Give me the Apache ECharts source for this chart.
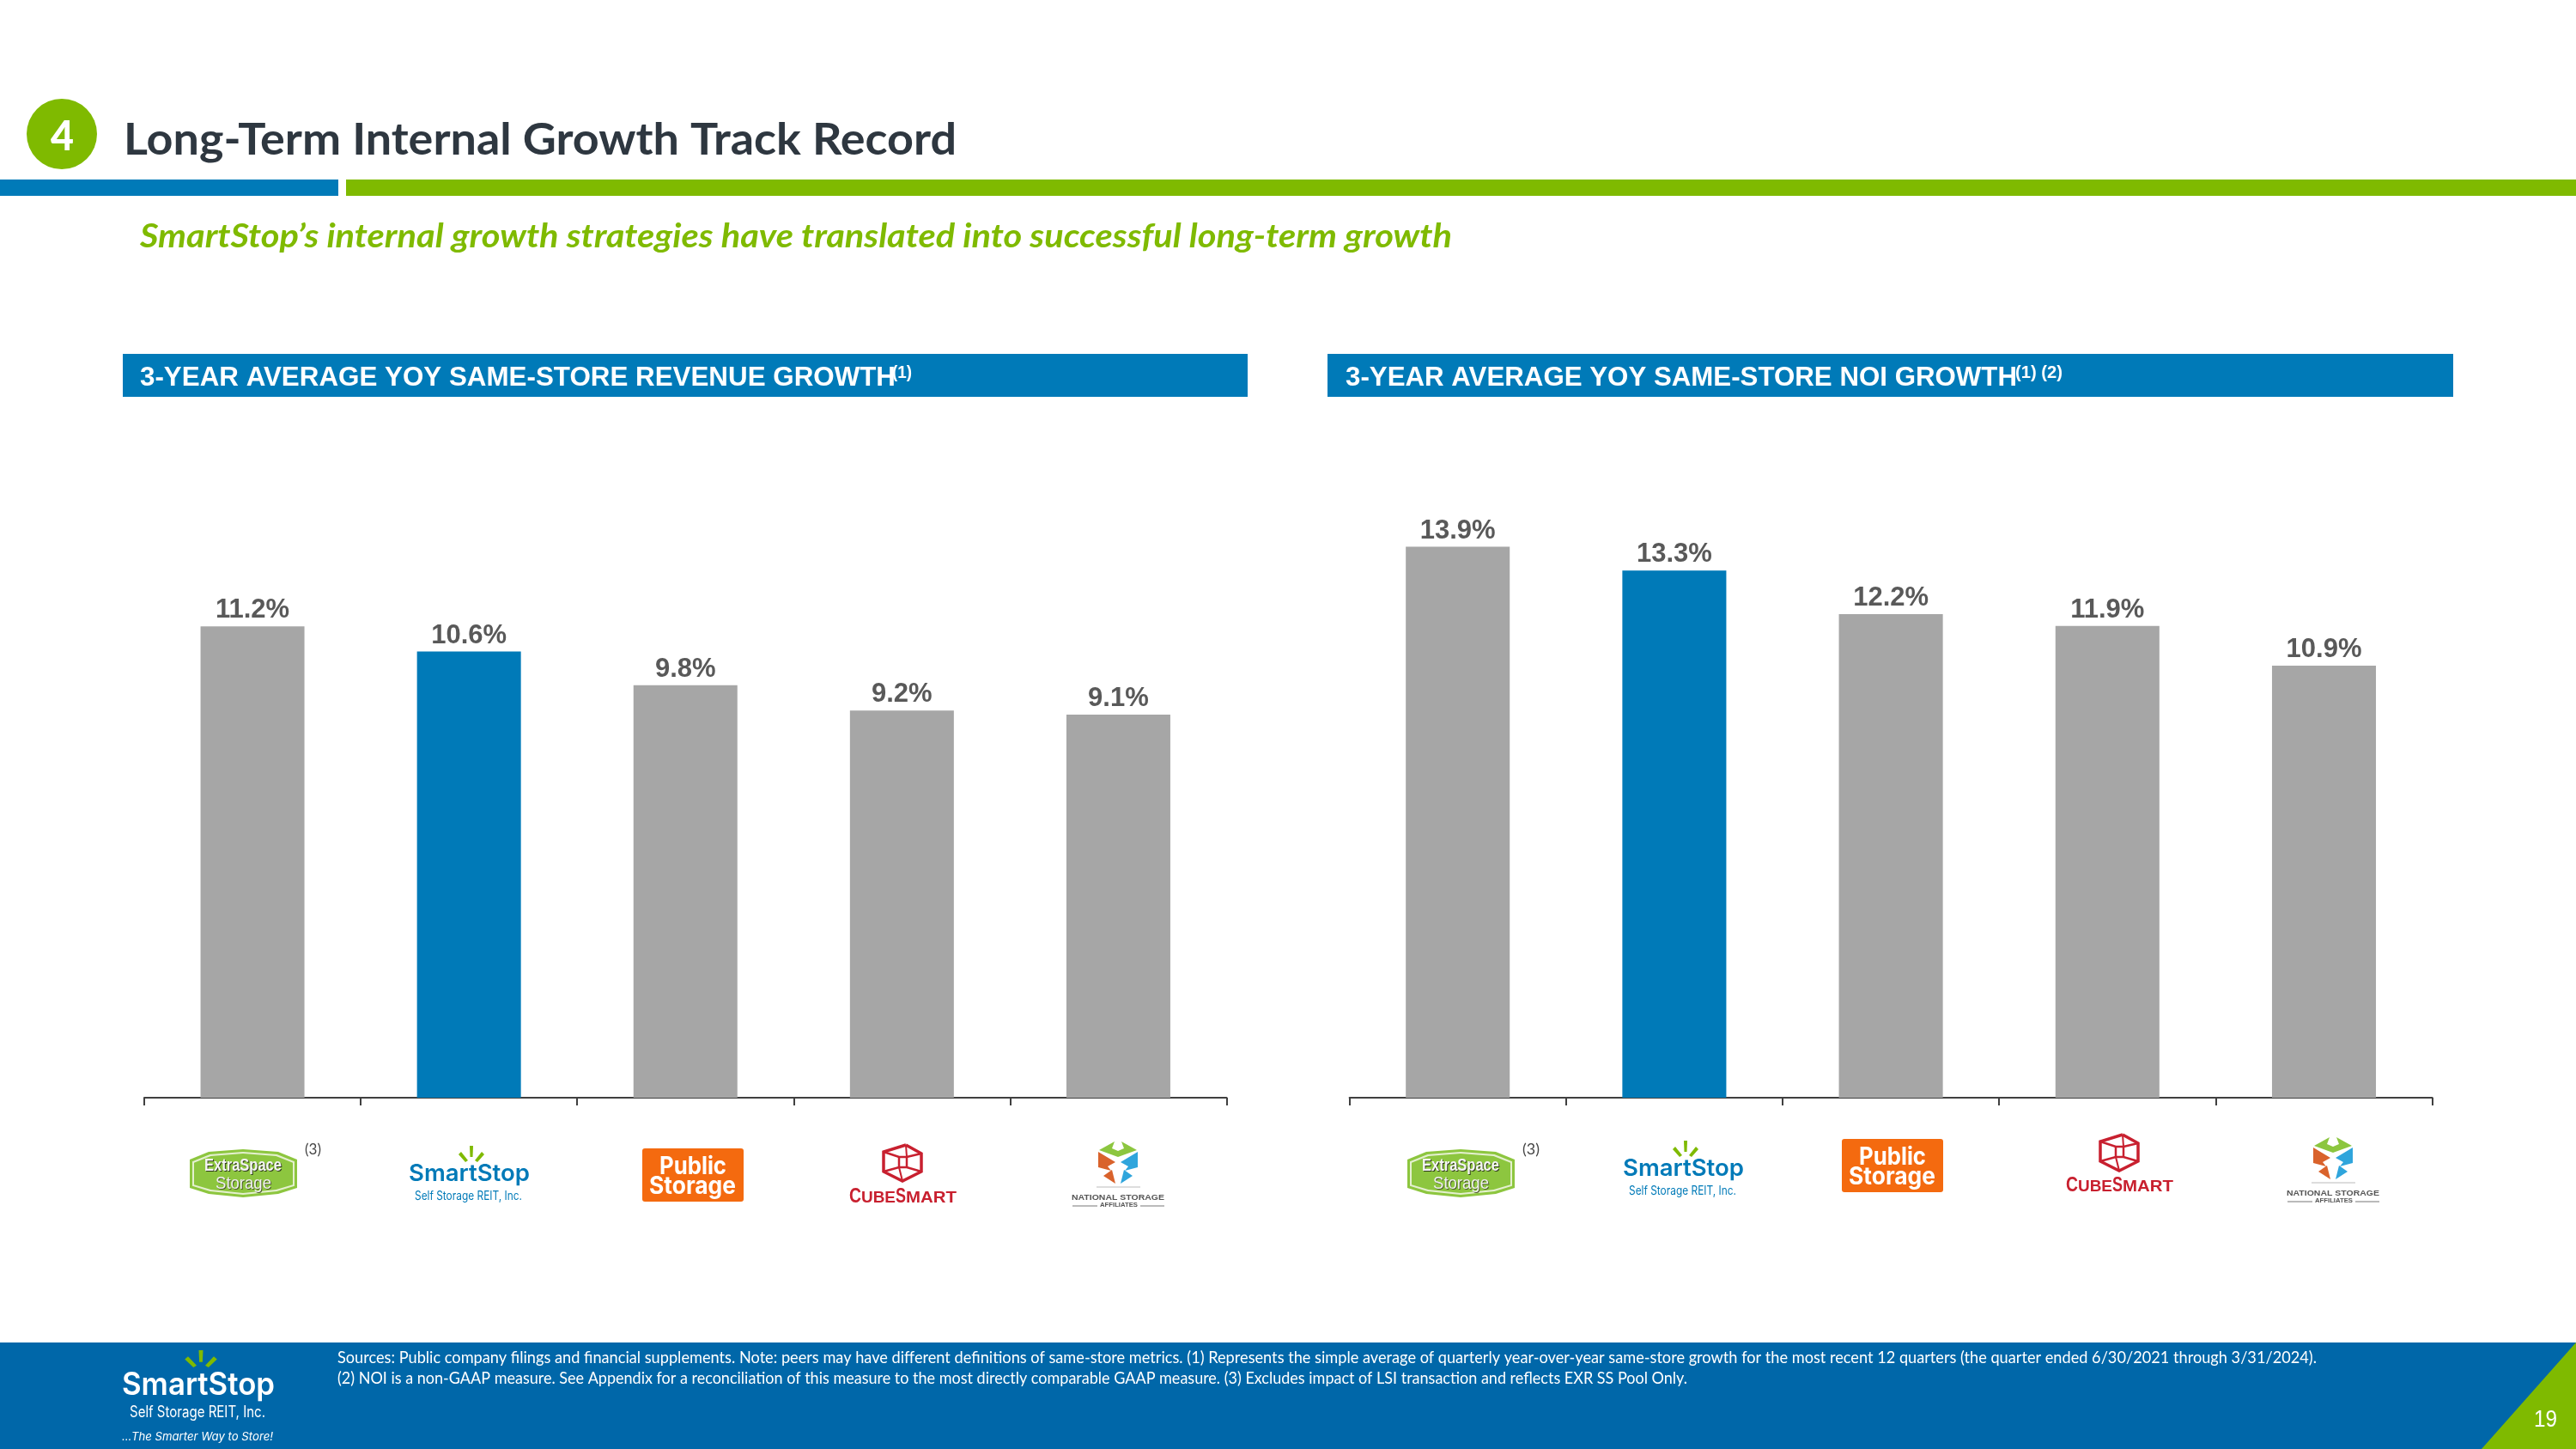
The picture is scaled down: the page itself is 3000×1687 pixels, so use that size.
<!DOCTYPE html>
<html><head><meta charset="utf-8">
<style>html,body{margin:0;padding:0;background:#fff}#c{width:3000px;height:1687px}</style>
<script src="https://cdn.jsdelivr.net/npm/echarts@6/dist/echarts.min.js"></script>
</head><body><div id="c"></div>
<script>
const categories = ['Extra Space Storage','SmartStop','Public Storage','CubeSmart','National Storage Affiliates'];
const revenueGrowth = [11.2,10.6,9.8,9.2,9.1];
const noiGrowth = [13.9,13.3,12.2,11.9,10.9];
const highlighted = 'SmartStop';
const pageTitle = 'Long-Term Internal Growth Track Record';
const pageSubtitle = 'SmartStop\u2019s internal growth strategies have translated into successful long-term growth';
const panelTitles = ['3-YEAR AVERAGE YOY SAME-STORE REVENUE GROWTH','3-YEAR AVERAGE YOY SAME-STORE NOI GROWTH'];
const panelNotes = ['(1)','(1) (2)'];
const footnotes = ['Sources: Public company filings and financial supplements. Note: peers may have different definitions of same-store metrics. (1) Represents the simple average of quarterly year-over-year same-store growth for the most recent 12 quarters (the quarter ended 6/30/2021 through 3/31/2024).',
 '(2) NOI is a non-GAAP measure. See Appendix for a reconciliation of this measure to the most directly comparable GAAP measure. (3) Excludes impact of LSI transaction and reflects EXR SS Pool Only.'];

const BLUE='#007AB8', GREEN='#7FBA00', GRAY='#A6A6A6', FOOT='#0067A9';
const chart = echarts.init(document.getElementById('c'),null,{renderer:'canvas'});
const ctx = document.createElement('canvas').getContext('2d');
function T(s,x,y,size,o){o=o||{};
  const font=`${o.style||'normal'} ${o.weight||'normal'} ${size}px ${o.font||'Lato'}`;
  ctx.font=font; ctx.textBaseline='middle';
  const m=ctx.measureText(s).width;
  const off=ctx.measureText('H').actualBoundingBoxDescent;
  const sx=o.w?o.w/m:1;
  return {type:'text',x,y:y-off,scaleX:sx,z:o.z||10,silent:true,style:{text:s,x:0,y:0,font,fill:o.fill||'#fff',align:'left',verticalAlign:'middle'}};
}
function P(pts,fill,z){return {type:'polygon',silent:true,z:z||5,shape:{points:pts},style:{fill}};}
function L(pts,stroke,w){return {type:'polyline',silent:true,z:6,shape:{points:pts},style:{stroke,lineWidth:w,fill:null}};}
function R(x,y,w,h,fill,r,z){return {type:'rect',silent:true,z:z||2,shape:{x,y,width:w,height:h,r:r||0},style:{fill}};}
function sparks(cx,top,sx,sy,c){const q=a=>a.map(p=>[cx+p[0]*sx,top+p[1]*sy]);return [
 P(q([[-2,0],[2,0],[1.5,13],[-1.5,13]]),c),
 P(q([[-15,10],[-12,7],[-4,17],[-7,19]]),c),
 P(q([[15,10],[12,7],[4,17],[7,19]]),c)];}
function logoExtra(x,y){
 const oct=(i,c)=>{const q=i*0.75;return P([[x+i,y+12+q],[x+22+i/2,y+3+i],[x+62,y+i],[x+103-i/2,y+3+i],[x+125-i,y+12+q],[x+125-i,y+45-q],[x+103-i/2,y+52-i],[x+62,y+56-i],[x+22+i/2,y+52-i],[x+i,y+45-q]],c);};
 return [oct(0,'#8DC63F'),oct(3,'#E4F0CF'),oct(5,'#8DC63F'),
  T('ExtraSpace',x+18,y+26,21,{weight:'bold',font:'Liberation Sans',w:90,fill:'#2F3A1C'}),
  T('ExtraSpace',x+17,y+25,21,{weight:'bold',font:'Liberation Sans',w:90,fill:'#F4F4F4'}),
  T('Storage',x+31,y+47,21,{font:'Liberation Sans',w:65,fill:'#4A5A2A'}),
  T('Storage',x+30,y+46,21,{font:'Liberation Sans',w:65,fill:'#F0F0F0'})];}
function logoSmart(x,top,c1){
 return [...sparks(x+73,top,1,1,'#7FBA00'),
  T('SmartStop',x,top+41,27,{font:'Inter',weight:'600',w:141,fill:c1}),
  T('Self Storage REIT, Inc.',x+7,top+63,14,{font:'Inter',w:125,fill:c1})];}
function logoPublic(x,y){return [R(x,y,118,62,'#F46A0F',3,4),
  T('Public',x+20,y+30,28,{font:'Inter',weight:'bold',w:78}),
  T('Storage',x+8,y+53,28,{font:'Inter',weight:'bold',w:101})];}
function logoCube(x,y,txtY){const c='#C8202F',u=(a,b)=>[x+61+a,y+b];
 return [
  L([u(4,1),u(22,11),u(22,32),u(0,43),u(-22,32),u(-22,9),u(4,1)],c,3.5),
  L([u(-22,9),u(-4,15),u(5,15),u(22,11)],c,2.5),
  L([u(-22,32),u(-4,27),u(5,27),u(22,32)],c,2.5),
  L([u(-4,15),u(-4,27)],c,2.5),L([u(5,15),u(5,27)],c,2.5),
  L([u(4,1),u(5,15)],c,2),L([u(0,43),u(-4,27)],c,2),
  T('C',x-1,txtY,23,{font:'Liberation Sans',weight:'bold',fill:c,w:14}),
  T('UBE',x+13,txtY,18,{font:'Liberation Sans',weight:'bold',fill:c,w:40}),
  T('S',x+53,txtY,23,{font:'Liberation Sans',weight:'bold',fill:c,w:12}),
  T('MART',x+65,txtY,18,{font:'Liberation Sans',weight:'bold',fill:c,w:59})];}
function logoNSA(x,y,cx,txtY){const m=(a,b,s)=>[cx+a*s,y+b];
 const shape=(s)=>[
  P([m(22,11,s),m(4,1,s),m(7,9,s),m(0,12,s),m(0,19,s)],'#8CC63F'),
  P([m(23,13,s),m(3,25,s),m(12,30,s),m(8,35,s),m(23,31,s)],s<0?'#D9622B':'#2FA5DC'),
  P([m(17,41,s),m(7,34,s),m(3,50,s)],s<0?'#D9622B':'#2FA5DC')];
 return [...shape(1),...shape(-1),
  L([[cx-25,y+54],[cx+26,y+54]],'#BBB',1),
  T('NATIONAL STORAGE',x,txtY,9,{font:'Liberation Sans',weight:'bold',w:108,fill:'#555'}),
  T('AFFILIATES',x+33,txtY+8,7,{font:'Liberation Sans',weight:'bold',w:44,fill:'#555'}),
  L([[x+1,txtY+7],[x+30,txtY+7]],'#777',1),L([[x+80,txtY+7],[x+108,txtY+7]],'#777',1)];}

function barSeries(vals,i){return {type:'bar',xAxisIndex:i,yAxisIndex:i,barWidth:'48%',
  data:vals.map((v,k)=>({value:v,itemStyle:{color:categories[k]===highlighted?BLUE:GRAY}})),
  label:{show:true,position:'top',distance:3,formatter:p=>p.value.toFixed(1)+'%',fontFamily:'Liberation Sans',fontWeight:'bold',fontSize:31,color:'#595959'}};}
const axis=i=>({type:'category',gridIndex:i,data:categories,axisLabel:{show:false},
  axisLine:{lineStyle:{color:'#404040',width:2}},axisTick:{show:true,length:9,lineStyle:{color:'#404040',width:2}}});
const graphic=[
 {type:'circle',silent:true,shape:{cx:72,cy:156,r:41},style:{fill:GREEN},z:2},
 T('4',59,175,48,{weight:'900',w:27}),
 T(pageTitle,144,180,52,{weight:'bold',w:970,fill:'#2E3740'}),
 R(0,209,394,19,BLUE), R(403,209,2597,19,GREEN),
 T(pageSubtitle,163,288,39,{weight:'bold',style:'italic',w:1528,fill:GREEN}),
 R(143,412,1310,50,BLUE), R(1546,412,1311,50,BLUE),
 T(panelTitles[0],163,449,31,{font:'Liberation Sans',weight:'bold',w:880}),
 T(panelNotes[0],1039,440,20,{font:'Liberation Sans',weight:'bold',w:23}),
 T(panelTitles[1],1567,449,31,{font:'Liberation Sans',weight:'bold',w:782}),
 T(panelNotes[1],2347,440,20,{font:'Liberation Sans',weight:'bold',w:55}),
 T('(3)',355,1344,18,{fill:'#444',w:19}), T('(3)',1773,1344,18,{fill:'#444',w:20}),
 ...logoExtra(221,1338), ...logoExtra(1639,1338),
 ...logoSmart(476,1334,BLUE), ...logoSmart(1890,1328,BLUE),
 ...logoPublic(748,1337), ...logoPublic(2145,1326),
 ...logoCube(990,1332,1400), ...logoCube(2407,1320,1387),
 ...logoNSA(1248,1328,1302,1397), ...logoNSA(2663,1323,2717,1392),
 R(0,1563,3000,124,FOOT),
 P([[3000,1563],[3000,1687],[2890,1687]],GREEN,3),
 T(footnotes[0],393,1587,19,{w:2305}),
 T(footnotes[1],393,1611,19,{w:1572}),
 T('19',2951,1661,28,{font:'Liberation Sans',w:27}),
 ...sparks(234,1572,1.25,1.05,GREEN),
 T('SmartStop',142,1624,37,{font:'Inter',weight:'600',w:178}),
 T('Self Storage REIT, Inc.',151,1650,18,{font:'Inter',w:158}),
 T('...The Smarter Way to Store!',142,1677,13,{font:'Inter',style:'italic',w:176}),
];
chart.setOption({animation:false,backgroundColor:'#fff',
 grid:[{left:168,width:1260.5,top:1278-49*14,height:49*14},{left:1571.6,width:1261,top:1278-46.15*16,height:46.15*16}],
 xAxis:[axis(0),axis(1)],
 yAxis:[{type:'value',gridIndex:0,show:false,min:0,max:14},{type:'value',gridIndex:1,show:false,min:0,max:16}],
 series:[barSeries(revenueGrowth,0),barSeries(noiGrowth,1)],
 graphic:{elements:graphic}});
</script></body></html>
